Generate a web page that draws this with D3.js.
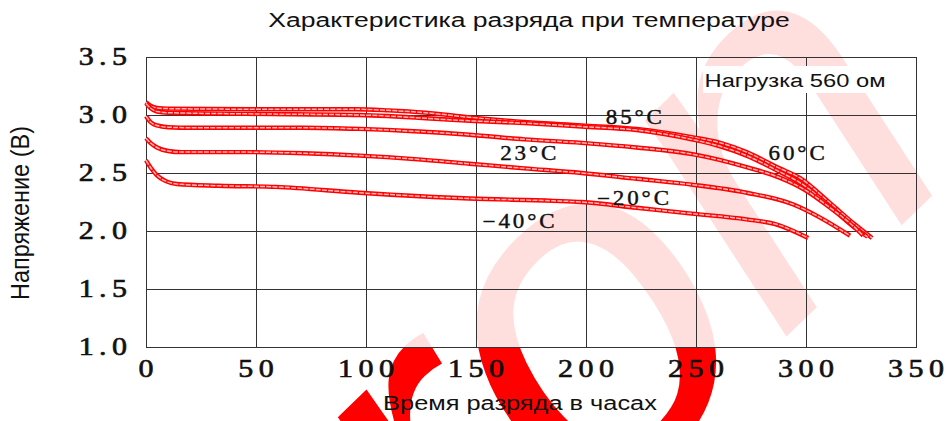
<!DOCTYPE html>
<html>
<head>
<meta charset="utf-8">
<script src="https://cdn.jsdelivr.net/npm/d3@7"></script>
<style>
	body { margin: 0; background: #fff; }
	svg { display: block; }
	.grid line, .frame { stroke: #333; stroke-width: 1; shape-rendering: crispEdges; fill: none; }
	.tick { font-family: "Liberation Serif", serif; font-size: 25px; letter-spacing: 4.5px; fill: #111; stroke: #111; stroke-width: 0.6px; }
	.tempLabel { font-family: "Liberation Serif", serif; font-size: 20px; letter-spacing: 2.5px; fill: #111; stroke: #111; stroke-width: 0.4px; }
	.sans { font-family: "Liberation Sans", Arial, sans-serif; fill: #111; }
</style>
</head>
<body>
<div id="chart"></div>
<script>

//--------------------------------- Data ---------------------------------------

var xTicks = [0, 50, 100, 150, 200, 250, 300, 350];
var yTicks = [1.0, 1.5, 2.0, 2.5, 3.0, 3.5];

//[hours, volts]
var curve85 = [[0,3.11],[2,3.08],[5,3.06],[10,3.055],[50,3.05],[95,3.05],[110,3.04],[127,3.02],[147,2.98],[172,2.94],[198,2.91],[223,2.88],[248,2.81],[261,2.76],[273,2.68],[288,2.54],[297,2.46],[311,2.24],[322,2.06],[330,1.94]];
var curve60 = [[0,3.10],[2,3.06],[5,3.03],[10,3.02],[46,3.01],[97,3.0],[147,2.95],[172,2.93],[198,2.90],[223,2.87],[248,2.79],[261,2.73],[273,2.65],[288,2.51],[297,2.42],[311,2.21],[322,2.03],[328,1.95]];
var curve23 = [[0,2.99],[2,2.94],[5,2.91],[10,2.895],[21,2.89],[71,2.89],[97,2.88],[122,2.86],[147,2.83],[172,2.79],[198,2.76],[223,2.72],[249,2.66],[273,2.55],[288,2.46],[299,2.36],[311,2.2],[321,2.05],[326,1.96]];
var curveM20 = [[0,2.80],[2,2.76],[5,2.72],[10,2.69],[16,2.68],[46,2.68],[72,2.67],[97,2.65],[122,2.62],[147,2.58],[172,2.54],[198,2.50],[223,2.45],[248,2.40],[273,2.33],[294,2.23],[306,2.12],[320,1.96]];
var curveM40 = [[0,2.61],[2,2.55],[5,2.48],[9,2.43],[14,2.405],[33,2.39],[59,2.38],[97,2.33],[147,2.28],[185,2.26],[198,2.25],[223,2.20],[248,2.15],[273,2.10],[286,2.06],[301,1.94]];

var tempNames = ["85°C", "60°C", "23°C", "−20°C", "−40°C"];
var tempLabelHours = [209, 283, 161, 205, 153];
var tempLabelVolts = [2.92, 2.61, 2.61, 2.22, 2.03];

//--------------------------------- Set up svg ---------------------------------------

var width = 948, height = 421;
var margin = {top: 57, right: 32, bottom: 74, left: 146};

var svg = d3.select("#chart").append("svg")
	.attr("width", width)
	.attr("height", height);

var x = d3.scaleLinear().domain([0, 350]).range([margin.left, width - margin.right]);
var y = d3.scaleLinear().domain([1.0, 3.5]).range([height - margin.bottom, margin.top]);

//text stretched sideways like the original picture
function wideText(parent, px, py, str, cls, anchor, sx) {
	var g = parent.append("g")
		.attr("transform", "translate(" + px + "," + py + ") scale(" + sx + ",1)");
	return g.append("text")
		.attr("class", cls)
		.attr("text-anchor", anchor || "start")
		.text(str);
}

//text squeezed to a given length, optionally rotated, thicker across by sy
function fitText(parent, px, py, str, size, len, rot, sy) {
	var g = parent.append("g");
	var t = g.append("text")
		.attr("class", "sans")
		.attr("text-anchor", "middle")
		.style("font-size", size + "px")
		.text(str);
	var k = len / t.node().getComputedTextLength();
	g.attr("transform", "translate(" + px + "," + py + ") rotate(" + rot + ") scale(" + k + "," + sy + ")");
	return t;
}

//--------------------------------- Watermark ---------------------------------------

var wm = svg.append("g");
var wmSize = 480;
var wmText = wm.append("text")
	.attr("font-family", "Liberation Sans")
	.attr("font-style", "italic")
	.attr("font-size", wmSize)
	.attr("fill", "#ff0000")
	.text("ekron");
var oBox = wmText.node().getExtentOfChar(3);
var oCx = oBox.x + oBox.width / 2, oCy = -0.26 * wmSize;
wmText.attr("transform", "translate(598,345) rotate(-44) translate(" + (-oCx) + "," + (-oCy) + ")");

//fade everything above the plot bottom
svg.append("rect")
	.attr("x", 0).attr("y", 0)
	.attr("width", width).attr("height", y(1.0))
	.attr("fill", "#fff")
	.attr("opacity", 0.87);

//--------------------------------- Grid ---------------------------------------

var grid = svg.append("g").attr("class", "grid");
grid.selectAll(".vline")
	.data(xTicks.slice(1, -1))
	.enter().append("line")
	.attr("x1", function(d) { return Math.round(x(d)) + 0.5; })
	.attr("x2", function(d) { return Math.round(x(d)) + 0.5; })
	.attr("y1", y(3.5)).attr("y2", y(1.0));
grid.selectAll(".hline")
	.data(yTicks.slice(1, -1))
	.enter().append("line")
	.attr("y1", function(d) { return Math.round(y(d)) + 0.5; })
	.attr("y2", function(d) { return Math.round(y(d)) + 0.5; })
	.attr("x1", x(0)).attr("x2", x(350));
svg.append("rect")
	.attr("class", "frame")
	.attr("x", Math.round(x(0)) + 0.5).attr("y", Math.round(y(3.5)) + 0.5)
	.attr("width", Math.round(x(350) - x(0)))
	.attr("height", Math.round(y(1.0) - y(3.5)));

//--------------------------------- Load label ---------------------------------------

var loadG = svg.append("g");
loadG.append("rect").attr("fill", "#fff")
	.attr("x", 703).attr("y", y(3.5) + 9)
	.attr("width", 186).attr("height", 27);
fitText(loadG, 795, y(3.5) + 30, "Нагрузка 560 ом", 19, 181, 0, 1);

//--------------------------------- Curves ---------------------------------------

var line = d3.line()
	.x(function(d) { return x(d[0]); })
	.y(function(d) { return y(d[1]); })
	.curve(d3.curveMonotoneX);

var curves = [curve85, curve60, curve23, curveM20, curveM40];
var curveG = svg.append("g");
curves.forEach(function(c) {
	curveG.append("path")
		.attr("d", line(c))
		.attr("fill", "none")
		.attr("stroke", "#ff0000")
		.attr("stroke-width", 4.4);
	curveG.append("path")
		.attr("d", line(c))
		.attr("fill", "none")
		.attr("stroke", "#ffb8b8")
		.attr("stroke-width", 1.5)
		.attr("stroke-dasharray", "5 1.2");
});

//--------------------------------- Labels ---------------------------------------

tempNames.forEach(function(t, i) {
	wideText(svg, x(tempLabelHours[i]), y(tempLabelVolts[i]), t, "tempLabel", "start", 1.15);
});

xTicks.forEach(function(d) {
	wideText(svg, x(d), y(1.0) + 30, d, "tick", "middle", 1.2).attr("dx", 2.25);
});
yTicks.forEach(function(d) {
	wideText(svg, x(0) - 19, y(d) + 8, d.toFixed(1), "tick", "end", 1.2).attr("dx", 4.5);
});

fitText(svg, 529, 27, "Характеристика разряда при температуре", 21, 522, 0, 1);
fitText(svg, 520, 410, "Время разряда в часах", 21, 274, 0, 1);
fitText(svg, 29, 213, "Напряжение (В)", 21, 174, -90, 1.2);

</script>
</body>
</html>
